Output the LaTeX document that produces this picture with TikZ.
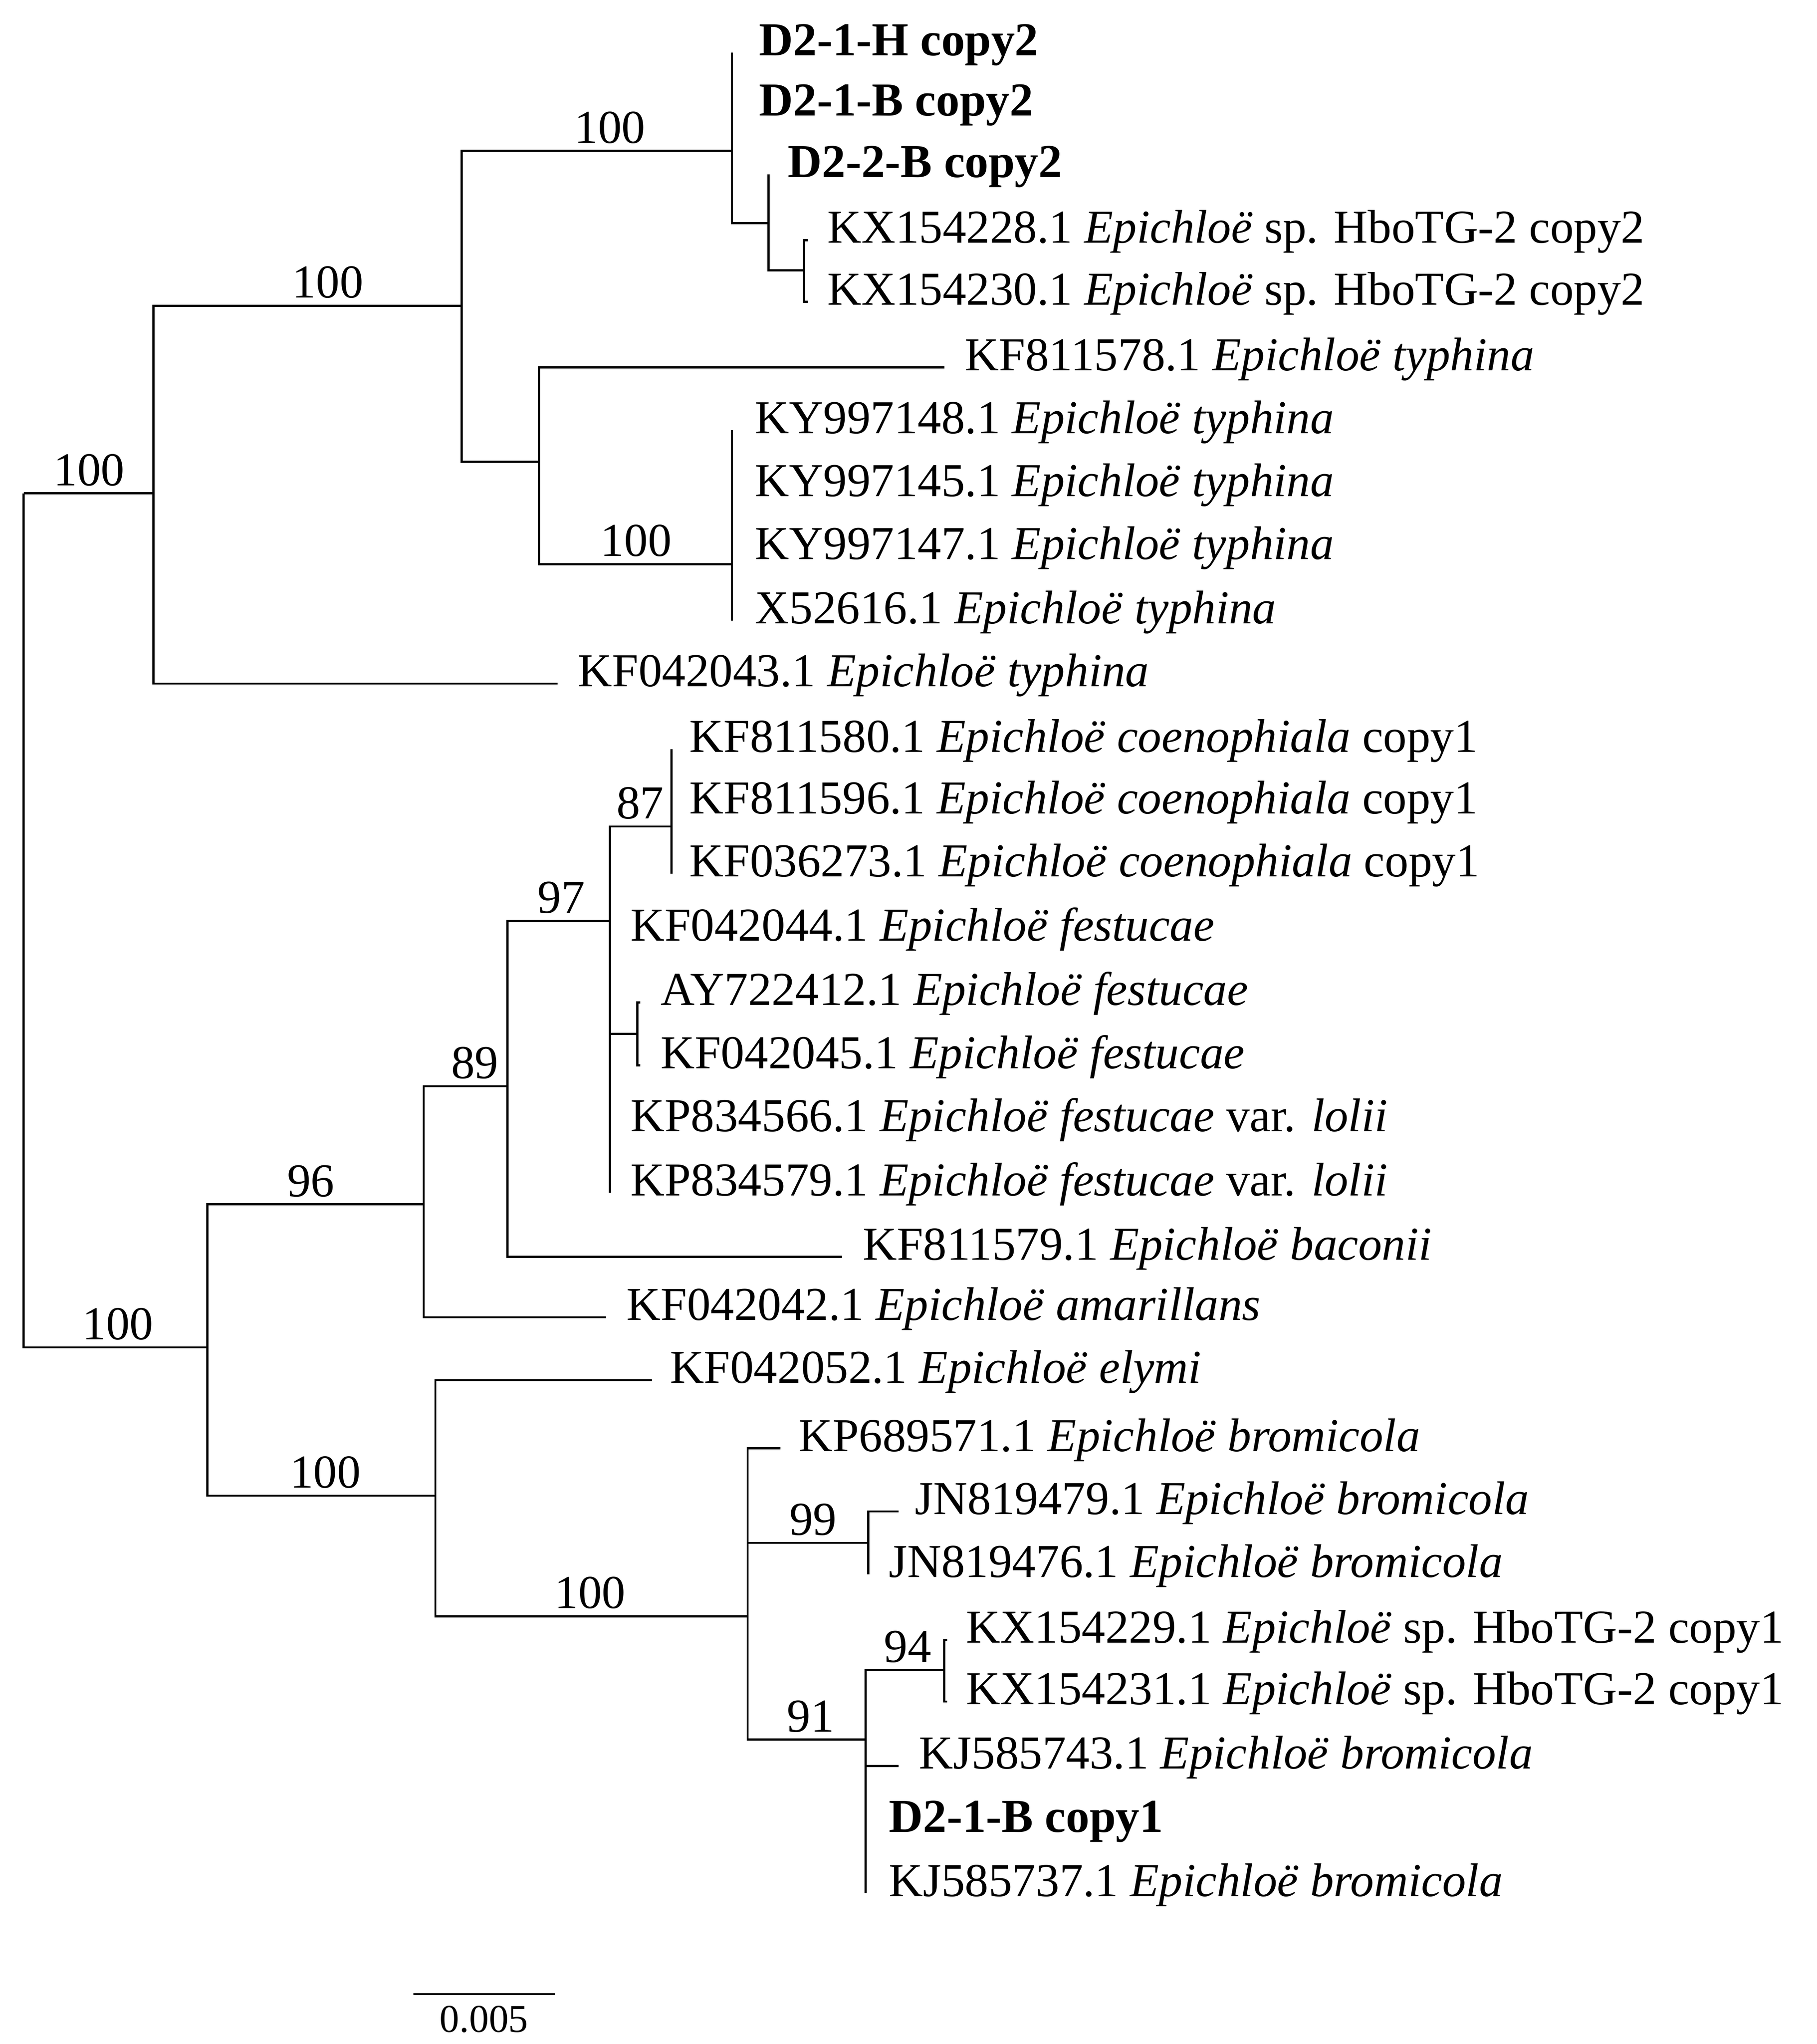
\documentclass[tikz,border=0pt]{standalone}
\usepackage{fontspec}
\setmainfont{Liberation Serif}
\newcommand{\E}{\textit{Epichloë}}
\newcommand{\leaf}[6]{% name parent xend y textx text
  \coordinate (#1) at (#3,#4);
  \draw (#2) |- (#1);
  \node[lab] (#1t) at (#5,#4) {#6};}
\newcommand{\bs}[4]{\node[bsl] (#1) at (#2,#3-6) {#4};}
\begin{document}
\begin{tikzpicture}[x=1pt,y=-1pt,line width=1.6pt,
  lab/.style={anchor=mid west,inner sep=0pt,font=\fontsize{36}{40}\selectfont},
  bsl/.style={anchor=base,inner sep=0pt,font=\fontsize{36}{40}\selectfont}]
\useasboundingbox (0,0) rectangle (1385,1558);
\coordinate (r) at (18,376);
\coordinate (u) at (117,376);
\coordinate (u1) at (352,233);
\coordinate (a) at (558,115);
\coordinate (b) at (586,170);
\coordinate (c) at (613,206);
\coordinate (t) at (411,352);
\coordinate (t2) at (558,430);
\coordinate (l) at (158,1027);
\coordinate (m) at (323,918);
\coordinate (m1) at (387,828);
\coordinate (m2) at (465,702);
\coordinate (m3) at (512,630);
\coordinate (m4) at (486,788);
\coordinate (n) at (332,1140);
\coordinate (n1) at (570,1232);
\coordinate (n2) at (662,1176);
\coordinate (n3) at (660,1326);
\coordinate (n4) at (720,1273);
\draw (r) |- (u); \draw (r) |- (l);
\draw (u) |- (u1); \draw (u1) |- (a); \draw (a) |- (b); \draw (b) |- (c);
\draw (u1) |- (t); \draw (t) |- (t2);
\draw (l) |- (m); \draw (m) |- (m1); \draw (m1) |- (m2); \draw (m2) |- (m3); \draw (m2) |- (m4);
\draw (l) |- (n); \draw (n) |- (n1); \draw (n1) |- (n2); \draw (n1) |- (n3); \draw (n3) |- (n4);
\leaf{L1}{a}{558}{40}{578}{\textbf{D2-1-H copy2}}
\leaf{L2}{a}{558}{86}{578}{\textbf{D2-1-B copy2}}
\leaf{L3}{b}{586}{133}{600}{\textbf{D2-2-B copy2}}
\leaf{L4}{c}{616}{183}{630}{KX154228.1 \E{} sp. HboTG-2 copy2}
\leaf{L5}{c}{616}{230}{630}{KX154230.1 \E{} sp. HboTG-2 copy2}
\leaf{L6}{t}{720}{280}{735}{KF811578.1 \E{} \textit{typhina}}
\leaf{L7}{t2}{558}{328}{575}{KY997148.1 \E{} \textit{typhina}}
\leaf{L8}{t2}{558}{376}{575}{KY997145.1 \E{} \textit{typhina}}
\leaf{L9}{t2}{558}{424}{575}{KY997147.1 \E{} \textit{typhina}}
\leaf{L10}{t2}{558}{473}{575}{X52616.1 \E{} \textit{typhina}}
\leaf{L11}{u}{425}{521}{440}{KF042043.1 \E{} \textit{typhina}}
\leaf{L12}{m3}{512}{571}{525}{KF811580.1 \E{} \textit{coenophiala} copy1}
\leaf{L13}{m3}{512}{618}{525}{KF811596.1 \E{} \textit{coenophiala} copy1}
\leaf{L14}{m3}{512}{666}{525}{KF036273.1 \E{} \textit{coenophiala} copy1}
\leaf{L15}{m2}{465}{715}{480}{KF042044.1 \E{} \textit{festucae}}
\leaf{L16}{m4}{488}{764}{503}{AY722412.1 \E{} \textit{festucae}}
\leaf{L17}{m4}{488}{812}{503}{KF042045.1 \E{} \textit{festucae}}
\leaf{L18}{m2}{465}{860}{480}{KP834566.1 \E{} \textit{festucae} var. \textit{lolii}}
\leaf{L19}{m2}{465}{909}{480}{KP834579.1 \E{} \textit{festucae} var. \textit{lolii}}
\leaf{L20}{m1}{642}{958}{657}{KF811579.1 \E{} \textit{baconii}}
\leaf{L21}{m}{462}{1004}{477}{KF042042.1 \E{} \textit{amarillans}}
\leaf{L22}{n}{497}{1052}{510}{KF042052.1 \E{} \textit{elymi}}
\leaf{L23}{n1}{595}{1104}{608}{KP689571.1 \E{} \textit{bromicola}}
\leaf{L24}{n2}{685}{1152}{697}{JN819479.1 \E{} \textit{bromicola}}
\leaf{L25}{n2}{662}{1200}{677}{JN819476.1 \E{} \textit{bromicola}}
\leaf{L26}{n4}{722}{1250}{736}{KX154229.1 \E{} sp. HboTG-2 copy1}
\leaf{L27}{n4}{722}{1297}{736}{KX154231.1 \E{} sp. HboTG-2 copy1}
\leaf{L28}{n3}{685}{1346}{700}{KJ585743.1 \E{} \textit{bromicola}}
\leaf{L29}{n3}{660}{1394}{677}{\textbf{D2-1-B copy1}}
\leaf{L30}{n3}{660}{1443}{677}{KJ585737.1 \E{} \textit{bromicola}}
\bs{b1}{68}{376}{100}
\bs{b2}{250}{233}{100}
\bs{b3}{465}{115}{100}
\bs{b4}{485}{430}{100}
\bs{b5}{90}{1027}{100}
\bs{b6}{237}{918}{96}
\bs{b7}{362}{828}{89}
\bs{b8}{428}{702}{97}
\bs{b9}{488}{630}{87}
\bs{b10}{248}{1140}{100}
\bs{b11}{450}{1232}{100}
\bs{b12}{620}{1176}{99}
\bs{b13}{618}{1326}{91}
\bs{b14}{692}{1273}{94}
\coordinate (s1) at (315,1520);
\coordinate (s2) at (423,1520);
\draw (s1) -- (s2);
\node[anchor=north,inner sep=0pt,font=\fontsize{30}{34}\selectfont] (sl) at (369,1528) {0.005};
\end{tikzpicture}
\end{document}
